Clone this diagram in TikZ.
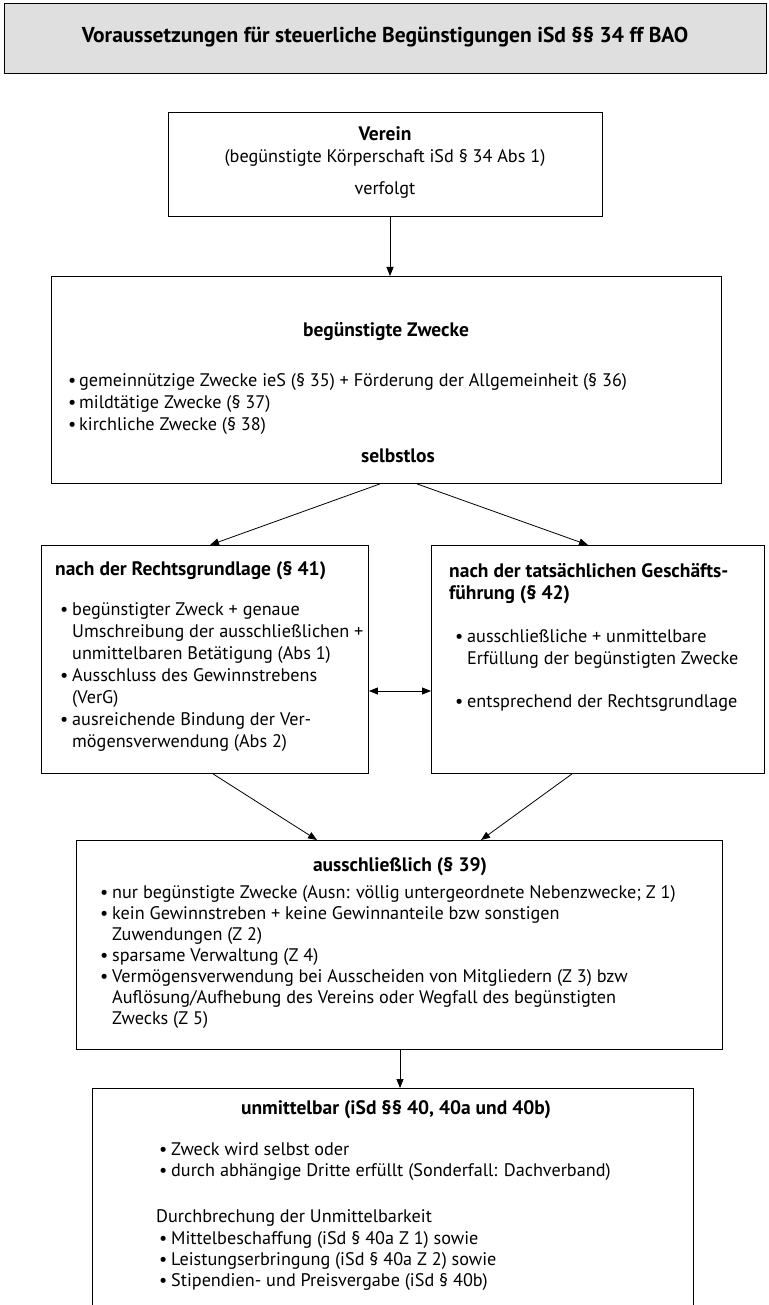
\documentclass[tikz,border=0pt]{standalone}
\usepackage{fontspec}
\setmainfont{PT Sans}
\usetikzlibrary{arrows.meta}
\tikzset{
  box/.style={draw, line width=0.9pt, inner sep=0pt, anchor=north west},
  obox/.style={inner sep=0pt, anchor=north west},
  arr/.style={line width=0.8pt, -{Triangle[length=9pt,width=7pt]}},
  darr/.style={line width=0.8pt, {Triangle[length=9pt,width=7pt]}-{Triangle[length=9pt,width=7pt]}},
  tx/.style={inner sep=0pt, font=\fontsize{18.2}{21}\selectfont},
  hd/.style={inner sep=0pt, font=\fontsize{19.5}{22}\selectfont\bfseries},
  ttl/.style={inner sep=0pt, font=\fontsize{21.5}{24}\selectfont\bfseries},
}
\newcommand\txl[4]{\node[tx,anchor=mid west] (#1) at (#2,#3) {#4};}
\newcommand\txc[4]{\node[tx,anchor=mid] (#1) at (#2,#3) {#4};}
\newcommand\hdl[4]{\node[hd,anchor=mid west] (#1) at (#2,#3) {#4};}
\newcommand\hdc[4]{\node[hd,anchor=mid] (#1) at (#2,#3) {#4};}
\newcommand\bu{\makebox[12pt][l]{•}}
\begin{document}
\begin{tikzpicture}[x=1pt,y=-1pt]
\useasboundingbox (0,0) rectangle (768,1305);
% boxes
\node[box, fill=gray!25, minimum width=762pt, minimum height=70pt] (title) at (4,3) {};
\node[box, minimum width=434pt, minimum height=104pt] (verein) at (168,112) {};
\node[box, minimum width=670pt, minimum height=207pt] (zwecke) at (51,276) {};
\node[box, minimum width=327pt, minimum height=228pt] (left) at (41,545) {};
\node[box, minimum width=333pt, minimum height=228pt] (right) at (431,545) {};
\node[box, minimum width=646pt, minimum height=209pt] (aus) at (76,840) {};
\node[obox, minimum width=601pt, minimum height=230pt] (unm) at (92,1088) {};
\draw[line width=0.9pt] (unm.south west) -- (unm.north west) -- (unm.north east) -- (unm.south east);
% title
\node[ttl,anchor=mid] (t0) at (385,40) {Voraussetzungen für steuerliche Begünstigungen iSd §§ 34 ff BAO};
% verein
\hdc{v1}{385}{138}{Verein}
\txc{v2}{385}{160}{(begünstigte Körperschaft iSd § 34 Abs 1)}
\txc{v3}{385}{192}{verfolgt}
% zwecke
\hdc{z0}{386}{334}{begünstigte Zwecke}
\txl{z1}{68}{384}{\makebox[11pt][l]{•}gemeinnützige Zwecke ieS (§ 35) + Förderung der Allgemeinheit (§ 36)}
\txl{z2}{68}{406}{\makebox[11pt][l]{•}mildtätige Zwecke (§ 37)}
\txl{z3}{68}{428}{\makebox[11pt][l]{•}kirchliche Zwecke (§ 38)}
\hdc{z4}{398}{460}{selbstlos}
% left
\hdl{l0}{55}{573}{nach der Rechtsgrundlage (§ 41)}
\txl{l1}{60}{613}{\bu begünstigter Zweck + genaue}
\txl{l2}{72}{635}{Umschreibung der ausschließlichen +}
\txl{l3}{72}{657}{unmittelbaren Betätigung (Abs 1)}
\txl{l4}{60}{679}{\bu Ausschluss des Gewinnstrebens}
\txl{l5}{72}{701}{(VerG)}
\txl{l6}{60}{723}{\bu ausreichende Bindung der Ver-}
\txl{l7}{72}{745}{mögensverwendung (Abs 2)}
% right
\hdl{r0}{449}{575}{nach der tatsächlichen Geschäfts-}
\hdl{r1}{449}{597}{führung (§ 42)}
\txl{r2}{455}{640}{\bu ausschließliche + unmittelbare}
\txl{r3}{467}{662}{Erfüllung der begünstigten Zwecke}
\txl{r4}{455}{705}{\bu entsprechend der Rechtsgrundlage}
% aus
\hdc{a0}{400}{869}{ausschließlich (§ 39)}
\txl{a1}{100}{896}{\bu nur begünstigte Zwecke (Ausn: völlig untergeordnete Nebenzwecke; Z 1)}
\txl{a2}{100}{917}{\bu kein Gewinnstreben + keine Gewinnanteile bzw sonstigen}
\txl{a3}{112}{938}{Zuwendungen (Z 2)}
\txl{a4}{100}{959}{\bu sparsame Verwaltung (Z 4)}
\txl{a5}{100}{980}{\bu Vermögensverwendung bei Ausscheiden von Mitgliedern (Z 3) bzw}
\txl{a6}{112}{1001}{Auflösung/Aufhebung des Vereins oder Wegfall des begünstigten}
\txl{a7}{112}{1022}{Zwecks (Z 5)}
% unm
\hdc{u0}{396}{1112}{unmittelbar (iSd §§ 40, 40a und 40b)}
\txl{u1}{159}{1153}{\bu Zweck wird selbst oder}
\txl{u2}{159}{1174}{\bu durch abhängige Dritte erfüllt (Sonderfall: Dachverband)}
\txl{u3}{156}{1220}{Durchbrechung der Unmittelbarkeit}
\txl{u4}{159}{1242}{\bu Mittelbeschaffung (iSd § 40a Z 1) sowie}
\txl{u5}{159}{1263}{\bu Leistungserbringung (iSd § 40a Z 2) sowie}
\txl{u6}{159}{1284}{\bu Stipendien- und Preisvergabe (iSd § 40b)}
% connectors
\draw[arr] ([xshift=222pt]verein.south west) -- ([xshift=339pt]zwecke.north west);
\draw[arr] ([xshift=329pt]zwecke.south west) -- ([xshift=169pt]left.north west);
\draw[arr] ([xshift=366pt]zwecke.south west) -- ([xshift=157pt]right.north west);
\draw[darr] ([yshift=-146pt]left.north east) -- ([yshift=-146pt]right.north west);
\draw[arr] ([xshift=172pt]left.south west) -- ([xshift=241pt]aus.north west);
\draw[arr] ([xshift=141pt]right.south west) -- ([xshift=405pt]aus.north west);
\draw[arr] ([xshift=324pt]aus.south west) -- ([xshift=308pt]unm.north west);
\end{tikzpicture}
\end{document}
